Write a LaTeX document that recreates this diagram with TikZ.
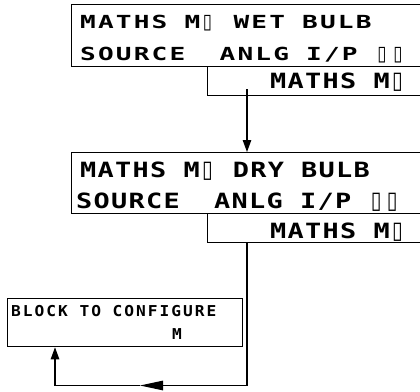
\documentclass[tikz,border=0pt]{standalone}
\usepackage{fontspec}
\usetikzlibrary{arrows.meta}
\newfontfamily\lcdfontA[FakeStretch=1.45,LetterSpace=12.0]{DejaVu Sans Mono Bold}
\newfontfamily\lcdfontB[FakeStretch=1.28,LetterSpace=6.2]{DejaVu Sans Mono Bold}
\newfontfamily\lcdfontC[FakeStretch=1.08,LetterSpace=13.3]{DejaVu Sans Mono Bold}
\newfontfamily\boxfont{DejaVu Sans}
\newlength\bxh
\newcommand\lcdA{\lcdfontA\fontsize{18}{18}\selectfont\spaceskip=17.2pt\relax}
\newcommand\lcdB{\lcdfontB\fontsize{21}{21}\selectfont\spaceskip=17.2pt\relax}
\newcommand\lcdC{\lcdfontC\fontsize{15}{15}\selectfont\spaceskip=11.6pt\relax}
\newcommand\bx{\makebox[16pt][l]{\settoheight{\bxh}{M}\hspace{2.5pt}%
  \resizebox{0.7\bxh}{\bxh}{\boxfont ▯}}}

\begin{document}
\begin{tikzpicture}[
  x=1pt,y=1pt,
  lcd/.style={draw,line width=1.1pt,inner sep=0pt,anchor=north west},
  lbA/.style={anchor=base west,inner sep=0pt,font=\lcdA},
  lbB/.style={anchor=base west,inner sep=0pt,font=\lcdB},
  lbC/.style={anchor=base west,inner sep=0pt,font=\lcdC},
  arr/.style={-{Triangle[length=12pt,width=8.5pt]},line width=1.1pt},
  arrl/.style={-{Triangle[length=23pt,width=9.5pt]},line width=1.1pt}
]
\useasboundingbox (0,0) rectangle (420,-391);
\clip (0,0) rectangle (420,-391);

% ---- wet bulb
\node[lcd,minimum width=370pt,minimum height=62pt] (wet) at (71,-4) {};
\node[lcd,minimum width=234pt,minimum height=29pt] (wetsub) at (207,-66) {};
\node[lbA] (wetA) at (80,-28.3) {MATHS M\bx{} WET BULB};
\node[lbA] (wetB) at (80,-60) {SOURCE\ \ ANLG I/P \bx\bx};
\node[lbB] (wetC) at (270,-88.3) {MATHS M\bx};

% ---- dry bulb
\node[lcd,minimum width=370pt,minimum height=61pt] (dry) at (71,-152) {};
\node[lcd,minimum width=234pt,minimum height=29pt] (drysub) at (207,-213) {};
\node[lbB] (dryA) at (80,-177) {MATHS M\bx{} DRY BULB};
\node[lbB] (dryB) at (76,-208.5) {SOURCE\ \ ANLG I/P \bx\bx};
\node[lbB] (dryC) at (270,-238) {MATHS M\bx};

% ---- block
\node[lcd,minimum width=235.5pt,minimum height=48.5pt] (blk) at (6.7,-297.7) {};
\node[lbC] (blkA) at (11,-316.7) {BLOCK TO CONFIGURE};
\node[lbC] (blkB) at (172,-339.3) {M};

% ---- setas
\coordinate (col) at ([xshift=40pt]wetsub.south west);
\coordinate (up) at ([xshift=48.3pt]blk.south west);
\coordinate (mid) at (140,-385.5);
\draw[arr] ([yshift=7pt]col) -- (col |- dry.north);
\draw[arrl] (col |- drysub.south) |- (mid);
\draw[arr] (mid) -| (up);
\end{tikzpicture}
\end{document}
